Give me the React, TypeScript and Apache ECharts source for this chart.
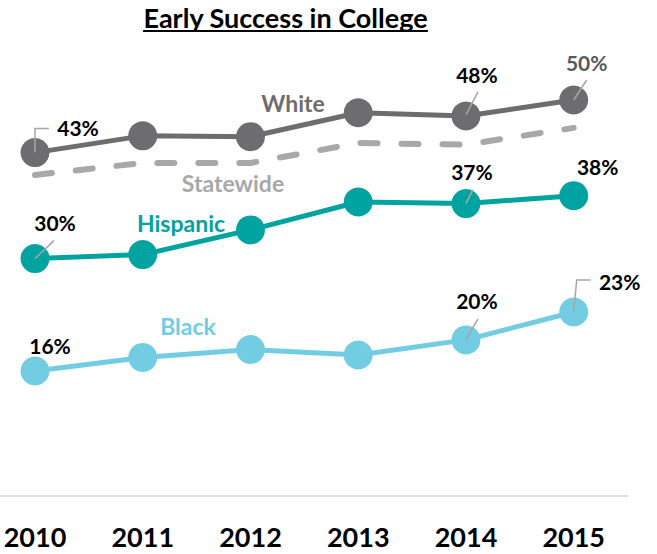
import React, { useEffect, useRef } from "react";
import * as echarts from "echarts";

const years = ["2010", "2011", "2012", "2013", "2014", "2015"];
const white = [43.4, 45.5, 45.4, 48.4, 48.0, 50.0];
const statewide = [40.6, 42.1, 42.1, 44.6, 44.4, 46.5];
const hispanic = [30.1, 30.6, 33.7, 37.2, 37.0, 38.0];
const black = [16.0, 17.7, 18.7, 18.0, 19.9, 23.4];

const FONT = "Lato, 'Open Sans', sans-serif";
const C_WHITE = "#6d6d6f";
const C_STATE = "#a8a8a8";
const C_HISP = "#00a3a0";
const C_BLACK = "#72cde3";
const C_LEADER = "#a6a6a6";

// label placement (pixel offsets from the point centre) and leader paths
type Spec = { data: number[]; idx: number; dx: number; dy: number; path: number[][]; color: string };
const labelSpecs: Spec[] = [
  { data: white, idx: 0, dx: 43, dy: -25, path: [[0, 0], [0, -24], [14, -24]], color: "#000000" },
  { data: white, idx: 4, dx: 11, dy: -41, path: [[0, -1], [12, -24]], color: "#000000" },
  { data: white, idx: 5, dx: 13, dy: -38, path: [[0, 0], [13, -20]], color: "#595959" },
  { data: hispanic, idx: 0, dx: 20, dy: -36, path: [[0, 0], [19, -18]], color: "#000000" },
  { data: hispanic, idx: 4, dx: 6, dy: -32, path: [[0, 0], [7, -14]], color: "#000000" },
  { data: hispanic, idx: 5, dx: 24, dy: -29, path: [], color: "#000000" },
  { data: black, idx: 0, dx: 15, dy: -25, path: [], color: "#000000" },
  { data: black, idx: 4, dx: 11, dy: -39, path: [[0, 0], [12, -21]], color: "#000000" },
  { data: black, idx: 5, dx: 46, dy: -31, path: [[0, 0], [3, -32], [17, -32]], color: "#000000" },
];

const TITLE = "Early Success in College";

export default function App() {
  const ref = useRef<HTMLDivElement>(null);
  useEffect(() => {
    document.body.style.margin = "0";
    if (!ref.current) return;
    const chart = echarts.init(ref.current, undefined, { renderer: "svg" });

    const titleSize = 27;
    const ctx = document.createElement("canvas").getContext("2d")!;
    ctx.font = `bold ${titleSize}px Lato`;
    const tw = ctx.measureText(TITLE).width;
    const tcx = 285.5;

    const lineSeries = (name: string, data: number[], color: string, extra: any = {}) => ({
      name,
      type: "line",
      data,
      symbol: "circle",
      symbolSize: 29,
      showSymbol: true,
      lineStyle: { color, width: 5 },
      itemStyle: { color },
      z: 3,
      ...extra,
    });

    const leaderData = labelSpecs.map((s, i) => [s.idx, s.data[s.idx], i]);
    const nameFont = `bold 23px ${FONT}`;

    chart.setOption({
      animation: false,
      grid: { left: 35, right: 83.3, top: 20.3, bottom: 55.5 },
      xAxis: {
        type: "category",
        data: years,
        boundaryGap: false,
        axisLine: { show: false },
        axisTick: { show: false },
        axisLabel: {
          fontFamily: FONT,
          fontWeight: "bold",
          fontSize: 27,
          color: "#000000",
          margin: 38,
          verticalAlign: "middle",
        },
      },
      yAxis: {
        type: "value",
        min: 0,
        max: 60,
        show: false,
        splitLine: { show: false },
      },
      series: [
        lineSeries("Statewide", statewide, C_STATE, {
          symbol: "none",
          lineStyle: { color: C_STATE, width: 6, type: [17, 24], cap: "round" },
          z: 2,
        }),
        lineSeries("White", white, C_WHITE),
        lineSeries("Hispanic", hispanic, C_HISP),
        lineSeries("Black", black, C_BLACK),
        {
          type: "custom",
          data: leaderData,
          encode: { x: 0, y: 1 },
          z: 10,
          silent: true,
          renderItem: (params: any, api: any) => {
            const i = api.value(2);
            const s = labelSpecs[i];
            const p = api.coord([api.value(0), api.value(1)]);
            const children: any[] = [];
            if (s.path.length) {
              children.push({
                type: "polyline",
                shape: { points: s.path.map(([dx, dy]) => [p[0] + dx, p[1] + dy]) },
                style: { stroke: C_LEADER, lineWidth: 1.5, fill: "none" },
              });
            }
            children.push({
              type: "text",
              x: p[0] + s.dx,
              y: p[1] + s.dy,
              style: {
                text: Math.round(api.value(1)) + "%",
                fill: s.color,
                font: `bold 21px ${FONT}`,
                align: "center",
                verticalAlign: "middle",
              },
            });
            return { type: "group", children };
          },
        },
      ],
      graphic: [
        {
          type: "text",
          x: tcx,
          y: 17,
          style: {
            text: TITLE,
            font: `bold ${titleSize}px ${FONT}`,
            fill: "#000000",
            align: "center",
            verticalAlign: "middle",
          },
        },
        {
          type: "line",
          shape: { x1: tcx - tw / 2, y1: 31, x2: tcx + tw / 2, y2: 31 },
          style: { stroke: "#000000", lineWidth: 2 },
        },
        {
          type: "line",
          shape: { x1: 0, y1: 496, x2: 628, y2: 496 },
          style: { stroke: "#d9d9d9", lineWidth: 1.5 },
        },
        {
          type: "text", x: 293, y: 103,
          style: { text: "White", font: nameFont, fill: C_WHITE, align: "center", verticalAlign: "middle" },
        },
        {
          type: "text", x: 233, y: 183,
          style: { text: "Statewide", font: nameFont, fill: C_STATE, align: "center", verticalAlign: "middle" },
        },
        {
          type: "text", x: 181, y: 223,
          style: { text: "Hispanic", font: nameFont, fill: C_HISP, align: "center", verticalAlign: "middle" },
        },
        {
          type: "text", x: 188, y: 326,
          style: { text: "Black", font: nameFont, fill: C_BLACK, align: "center", verticalAlign: "middle" },
        },
      ],
    });
    return () => chart.dispose();
  }, []);
  return <div ref={ref} style={{ width: 657, height: 554 }} />;
}
